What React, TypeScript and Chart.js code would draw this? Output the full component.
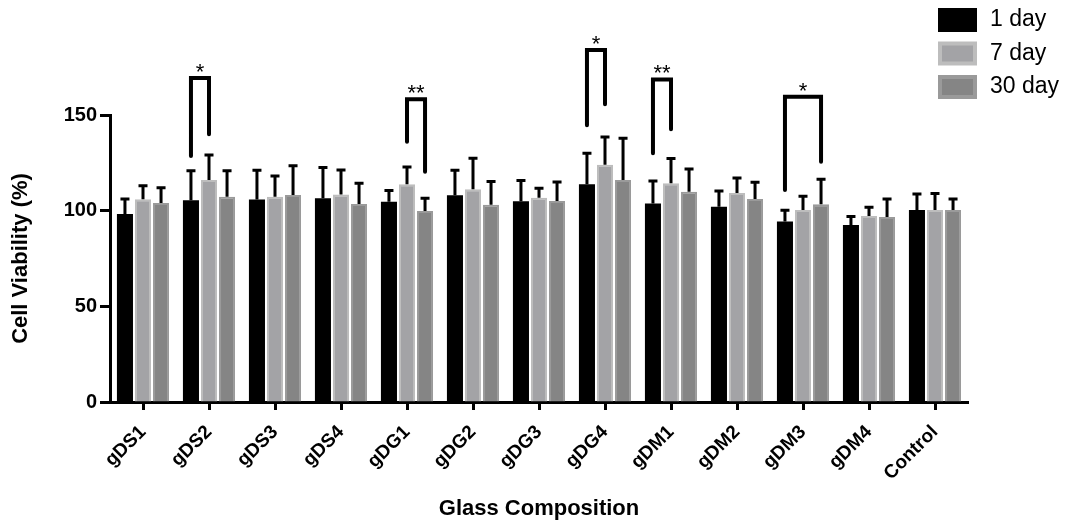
import React, { useEffect, useRef } from "react";
import { Chart, registerables } from "chart.js";

Chart.register(...registerables);

const categories = ["gDS1", "gDS2", "gDS3", "gDS4", "gDG1", "gDG2", "gDG3", "gDG4", "gDM1", "gDM2", "gDM3", "gDM4", "Control"];
const seriesLabels = ["1 day", "7 day", "30 day"];
const day1 = [98.3, 105.4, 105.9, 106.5, 104.6, 108, 104.9, 113.8, 103.8, 102.1, 94.4, 92.5, 100.4];
const day1Err = [7.8, 15.4, 15.2, 16, 5.9, 13.1, 10.9, 16.2, 11.7, 8.2, 5.8, 4.4, 8.3];
const day7 = [106, 116, 107.3, 108.5, 113.8, 111.2, 106.8, 124, 114.3, 109.2, 100.3, 97.2, 100.4];
const day7Err = [7, 13.1, 10.8, 12.8, 9, 16.2, 4.9, 14.5, 12.9, 7.9, 7.2, 4.6, 8.6];
const day30 = [104, 107.3, 108.2, 103.5, 99.8, 103.1, 105.1, 116, 109.9, 106.1, 103.3, 96.7, 100.4];
const day30Err = [8, 13.5, 15.3, 10.8, 6.7, 12.2, 9.9, 21.8, 11.9, 8.7, 13.1, 9.4, 5.7];
const yTicks = [0, 50, 100, 150];

// significance brackets
const bracketCategory = [1, 4, 7, 8, 10];
const bracketFrom = [0, 1, 0, 0, 0];
const bracketTo = [1, 2, 1, 1, 2];
const bracketTop = [169.4, 158.2, 184, 168.6, 159.6];
const bracketLeftEnd = [128.6, 136, 144.6, 130, 110.8];
const bracketRightEnd = [140, 120.4, 155.6, 142.5, 125.6];
const bracketLabels = ["*", "**", "*", "**", "*"];

const fills = ["#000000", "#a3a3a6", "#858585"];
const borders = ["#000000", "#bdbdbd", "#9a9a9a"];
const errorSets = [day1Err, day7Err, day30Err];

const FONT = "'Liberation Sans', Arial, sans-serif";

const annotate = {
  id: "annotate",
  afterDatasetsDraw(chart: any) {
    const ctx = chart.ctx;
    const y = chart.scales.y;
    ctx.save();
    // error bars
    chart.data.datasets.forEach((ds: any, di: number) => {
      const meta = chart.getDatasetMeta(di);
      const errs = errorSets[di];
      meta.data.forEach((el: any, i: number) => {
        const top = y.getPixelForValue(ds.data[i] + errs[i]);
        ctx.strokeStyle = "#000";
        ctx.lineWidth = 3;
        ctx.lineCap = "butt";
        ctx.beginPath();
        ctx.moveTo(el.x, el.y);
        ctx.lineTo(el.x, top);
        ctx.moveTo(el.x - 4.5, top);
        ctx.lineTo(el.x + 4.5, top);
        ctx.stroke();
      });
    });
    // brackets
    bracketCategory.forEach((c, k) => {
      const xL = chart.getDatasetMeta(bracketFrom[k]).data[c].x;
      const xR = chart.getDatasetMeta(bracketTo[k]).data[c].x;
      const yT = y.getPixelForValue(bracketTop[k]);
      const yL = y.getPixelForValue(bracketLeftEnd[k]);
      const yR = y.getPixelForValue(bracketRightEnd[k]);
      ctx.strokeStyle = "#000";
      ctx.lineWidth = 4;
      ctx.lineCap = "round";
      ctx.lineJoin = "miter";
      ctx.beginPath();
      ctx.moveTo(xL, yL);
      ctx.lineTo(xL, yT);
      ctx.lineTo(xR, yT);
      ctx.lineTo(xR, yR);
      ctx.stroke();
      ctx.fillStyle = "#000";
      ctx.font = `22px ${FONT}`;
      ctx.textAlign = "center";
      ctx.textBaseline = "alphabetic";
      ctx.fillText(bracketLabels[k], (xL + xR) / 2, yT + 1);
    });
    // legend
    const lx = 938;
    const ly = 8;
    chart.data.datasets.forEach((ds: any, di: number) => {
      const top = ly + di * 33.5;
      ctx.fillStyle = borders[di];
      ctx.fillRect(lx, top, 39, 24);
      ctx.fillStyle = fills[di];
      ctx.fillRect(lx + 4, top + 4, 31, 16);
      ctx.fillStyle = "#000";
      ctx.font = `23px ${FONT}`;
      ctx.textAlign = "left";
      ctx.textBaseline = "middle";
      ctx.fillText(ds.label, lx + 52, top + 12);
    });
    ctx.restore();
  },
};

export default function App() {
  const ref = useRef<HTMLCanvasElement | null>(null);
  useEffect(() => {
    if (!ref.current) return;
    const values = [day1, day7, day30];
    const chart = new Chart(ref.current, {
      type: "bar",
      data: {
        labels: categories,
        datasets: seriesLabels.map((label, i) => ({
          label,
          data: values[i],
          backgroundColor: fills[i],
          borderColor: borders[i],
          borderWidth: i === 0 ? 0 : 2,
          categoryPercentage: 0.82,
          barPercentage: 0.89,
        })),
      },
      options: {
        animation: false,
        responsive: true,
        maintainAspectRatio: false,
        layout: { padding: { top: 115, right: 99, bottom: 0, left: 0 } },
        plugins: { legend: { display: false }, tooltip: { enabled: false } },
        scales: {
          x: {
            afterFit: (s: any) => {
              s.height = 121;
            },
            grid: { offset: false, drawOnChartArea: false, drawTicks: true, tickLength: 8, tickWidth: 3, color: "#000" },
            border: { display: true, width: 3, color: "#000" },
            ticks: {
              autoSkip: false,
              minRotation: 45,
              maxRotation: 45,
              padding: 11,
              color: "#000",
              font: { family: FONT, size: 19, weight: "bold" },
            },
            title: {
              display: true,
              text: "Glass Composition",
              color: "#000",
              font: { family: FONT, size: 22, weight: "bold", lineHeight: 1.2 },
              padding: { top: 0, bottom: 1 },
            },
          },
          y: {
            min: 0,
            max: 150,
            afterFit: (s: any) => {
              s.width = 110;
            },
            afterBuildTicks: (s: any) => {
              s.ticks = yTicks.map((v) => ({ value: v }));
            },
            grid: { drawOnChartArea: false, drawTicks: true, tickLength: 10, tickWidth: 3, color: "#000" },
            border: { display: true, width: 3, color: "#000" },
            ticks: {
              padding: 3,
              color: "#000",
              font: { family: FONT, size: 20, weight: "bold" },
            },
            title: {
              display: true,
              text: "Cell Viability (%)",
              color: "#000",
              font: { family: FONT, size: 22, weight: "bold", lineHeight: 1.2 },
              padding: { top: 8, bottom: 0 },
            },
          },
        },
      },
      plugins: [annotate],
    });
    return () => chart.destroy();
  }, []);
  return (
    <div style={{ position: "fixed", left: 0, top: 0, width: 1067, height: 523, background: "#fff" }}>
      <canvas ref={ref} />
    </div>
  );
}
